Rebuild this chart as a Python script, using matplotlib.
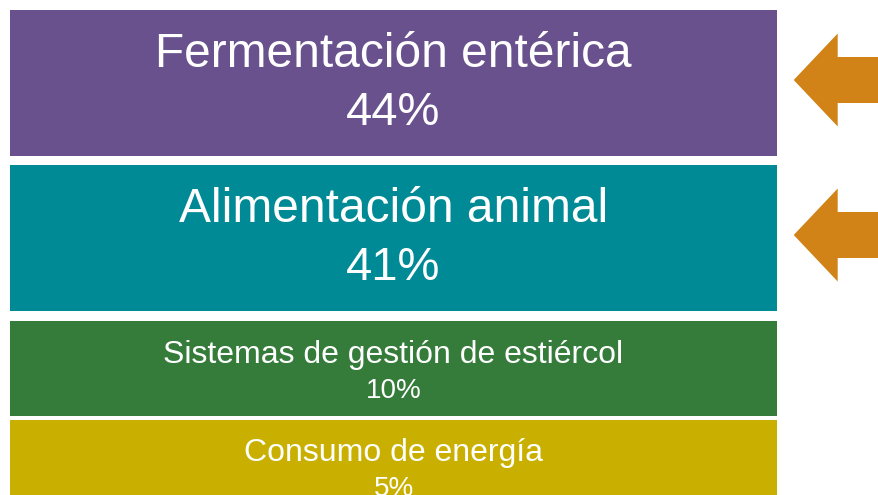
import matplotlib.pyplot as plt
from matplotlib.patches import FancyArrow

plt.rcParams['font.family'] = ['Liberation Sans', 'DejaVu Sans']

labels = ["Fermentación entérica", "Alimentación animal",
          "Sistemas de gestión de estiércol", "Consumo de energía"]
pcts = [44, 41, 10, 5]
colors = ["#68518C", "#008A96", "#357C3B", "#C9B000"]
highlight = [True, True, False, False]

# layout (pixels, y down)
tops = [10, 165, 321, 420]
bottoms = [156, 311, 416, 520]
label_size = [34.5, 34.5, 23, 23]
pct_size = [34, 34, 20, 20]
label_base = [66.7, 221.7, 362.7, 460.7]
pct_base = [125, 280, 397.7, 495.7]

fig = plt.figure(figsize=(8.79, 4.95), dpi=100)
ax = fig.add_axes([0, 0, 1, 1])
ax.set_xlim(0, 879)
ax.set_ylim(495, 0)
ax.axis("off")

centers = [(t + b) / 2 for t, b in zip(tops, bottoms)]
heights = [b - t for t, b in zip(tops, bottoms)]
ax.barh(centers, 767, left=10, height=heights, color=colors)

cx = 10 + 767 / 2
for i in range(len(labels)):
    ax.text(cx, label_base[i], labels[i], color="white", ha="center",
            va="baseline", fontsize=label_size[i])
    ax.text(cx, pct_base[i], "%d%%" % pcts[i], color="white", ha="center",
            va="baseline", fontsize=pct_size[i])
    if highlight[i]:
        ay = centers[i] - 3
        arr = FancyArrow(890, ay, -96.3, 0, width=46, head_width=93,
                         head_length=44, length_includes_head=True,
                         color="#D18318", linewidth=0)
        ax.add_patch(arr)

fig.savefig("out.png", dpi=100)
